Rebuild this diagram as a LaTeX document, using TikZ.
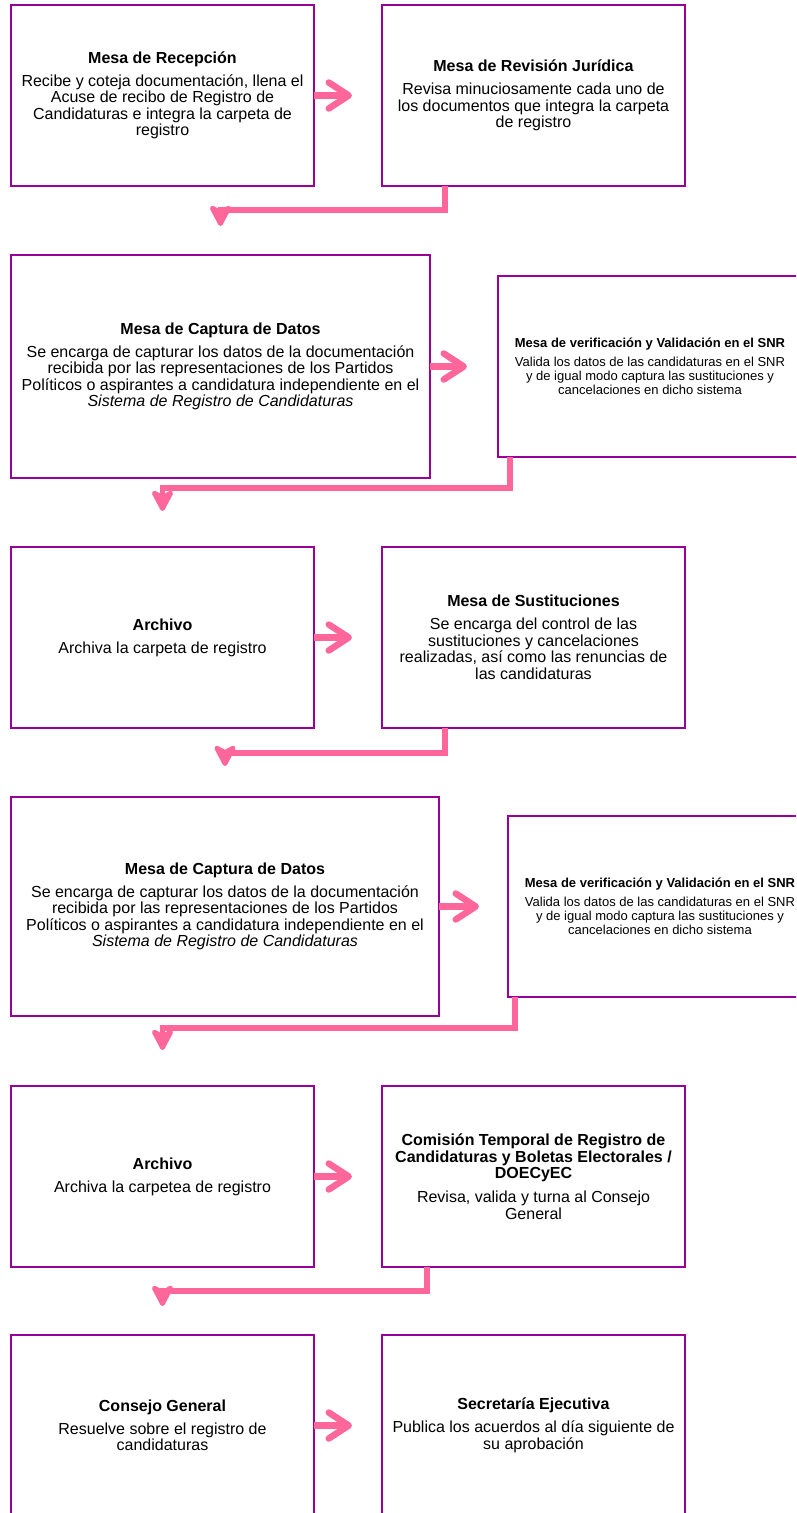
\documentclass[tikz,border=0pt]{standalone}
\usepackage{fontspec}
\setmainfont{Liberation Sans}
\usetikzlibrary{arrows.meta,calc}
\definecolor{boxpurple}{RGB}{153,0,153}
\definecolor{flowpink}{RGB}{255,102,153}
\tikzset{
  stepbox/.style={draw=boxpurple, line width=2.8pt, fill=white, align=center,
    inner sep=0pt, outer sep=0pt, font=\fontsize{16}{16.5}\selectfont,
    minimum width=303pt, minimum height=181pt},
  smallbox/.style={stepbox, font=\fontsize{13}{14.2}\selectfont, minimum width=304pt},
  harrow/.style={draw=flowpink, line width=6.5pt,
    -{Straight Barb[length=20pt,width=26pt,round]}, shorten >=30pt},
  elbow/.style={draw=flowpink, line width=5.5pt,
    -{Stealth[length=26pt,width=27pt,inset=7pt,round]}},
}
\begin{document}
\begin{tikzpicture}[x=1pt,y=-1pt]
\useasboundingbox (0,0) rectangle (796,1513);
\fill[white] (0,0) rectangle (796,1513);
\clip (0,0) rectangle (796,1513);

% row 1
\node[stepbox] (b1) at (162.5,95.5) {\textbf{Mesa de Recepción}\\[6.5pt]Recibe y coteja documentación, llena el\\Acuse de recibo de Registro de\\Candidaturas e integra la carpeta de\\registro};
\node[stepbox] (b2) at (533.5,95.5) {\textbf{Mesa de Revisión Jurídica}\\[6.5pt]Revisa minuciosamente cada uno de\\los documentos que integra la carpeta\\de registro};

% row 2
\node[stepbox, minimum width=419pt, minimum height=223pt] (b3) at (220.5,366.5) {\textbf{Mesa de Captura de Datos}\\[6.5pt]Se encarga de capturar los datos de la documentación\\recibida por las representaciones de los Partidos\\Políticos o aspirantes a candidatura independiente en el\\\textit{Sistema de Registro de Candidaturas}};
\node[smallbox] (b4) at (650,366.5) {\textbf{Mesa de verificación y Validación en el SNR}\\[4.8pt]Valida los datos de las candidaturas en el SNR\\y de igual modo captura las sustituciones y\\cancelaciones en dicho sistema};

% row 3
\node[stepbox] (b5) at (162.5,637.5) {\textbf{Archivo}\\[6.5pt]Archiva la carpeta de registro};
\node[stepbox] (b6) at (533.5,637.5) {\textbf{Mesa de Sustituciones}\\[6.5pt]Se encarga del control de las\\sustituciones y cancelaciones\\realizadas, así como las renuncias de\\las candidaturas};

% row 4
\node[stepbox, minimum width=428pt, minimum height=219pt] (b7) at (225,906.5) {\textbf{Mesa de Captura de Datos}\\[6.5pt]Se encarga de capturar los datos de la documentación\\recibida por las representaciones de los Partidos\\Políticos o aspirantes a candidatura independiente en el\\\textit{Sistema de Registro de Candidaturas}};
\node[smallbox] (b8) at (660,906.5) {\textbf{Mesa de verificación y Validación en el SNR}\\[4.8pt]Valida los datos de las candidaturas en el SNR\\y de igual modo captura las sustituciones y\\cancelaciones en dicho sistema};

% row 5
\node[stepbox] (b9) at (162.5,1176.5) {\textbf{Archivo}\\[6.5pt]Archiva la carpetea de registro};
\node[stepbox] (b10) at (533.5,1176.5) {\textbf{Comisión Temporal de Registro de}\\\textbf{Candidaturas y Boletas Electorales /}\\\textbf{DOECyEC}\\[7.5pt]Revisa, valida y turna al Consejo\\General};

% row 6
\node[stepbox] (b11) at (162.5,1425.5) {\textbf{Consejo General}\\[6.5pt]Resuelve sobre el registro de\\candidaturas};
\node[stepbox] (b12) at (533.5,1425.5) {\textbf{Secretaría Ejecutiva}\\[6.5pt]Publica los acuerdos al día siguiente de\\su aprobación};

% horizontal arrows
\draw[harrow] (b1.east) -- (b1.east -| b2.west);
\draw[harrow, shorten >=31pt] (b3.east) -- (b3.east -| b4.west);
\draw[harrow] (b5.east) -- (b5.east -| b6.west);
\draw[harrow, shorten >=29pt] (b7.east) -- (b7.east -| b8.west);
\draw[harrow] (b9.east) -- (b9.east -| b10.west);
\draw[harrow] (b11.east) -- (b11.east -| b12.west);

% elbow connectors
\draw[elbow, shorten >=29pt] ($(b2.south west)+(63,0)$) |- ($(b3.north)+(0,-45)$) -- (b3.north);
\draw[elbow, shorten >=36pt] ($(b4.south west)+(12,0)$) |- ($(b5.north)+(0,-59)$) -- (b5.north);
\draw[elbow, shorten >=31pt] ($(b6.south west)+(63,0)$) |- ($(b7.north)+(0,-44)$) -- (b7.north);
\draw[elbow, shorten >=36pt] ($(b8.south west)+(7,0)$) |- ($(b9.north)+(0,-58)$) -- (b9.north);
\draw[elbow, shorten >=29pt] ($(b10.south west)+(45,0)$) |- ($(b11.north)+(0,-44)$) -- (b11.north);
\end{tikzpicture}
\end{document}
